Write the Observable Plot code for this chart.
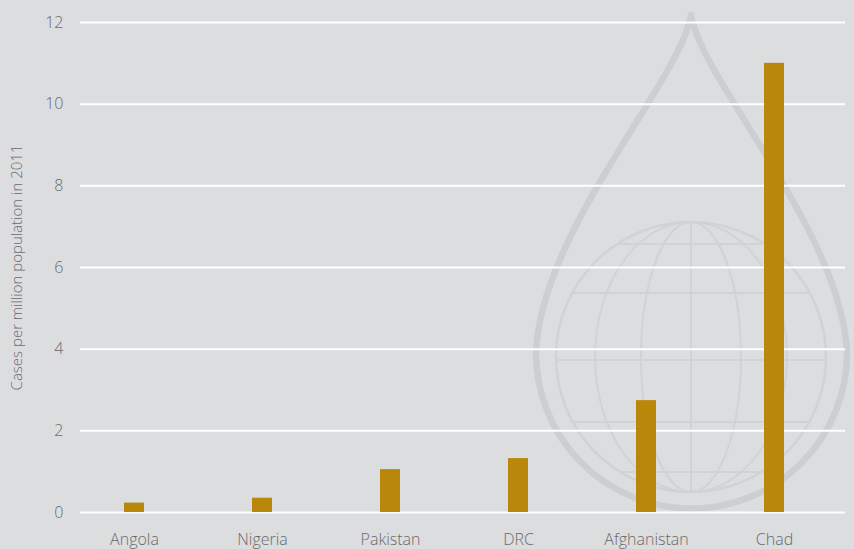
<!DOCTYPE html>
<html>
<head>
<meta charset="utf-8">
<script src="https://cdn.jsdelivr.net/npm/d3@7"></script>
<script src="https://cdn.jsdelivr.net/npm/@observablehq/plot@0.6"></script>
<style>
  html, body { margin: 0; padding: 0; background: #dcdddf; }
  #chart { width: 854px; height: 549px; overflow: hidden; }
  #chart svg text { font-weight: 300; }
</style>
</head>
<body>
<div id="chart"></div>
<script>
// Data
const countries = ["Angola", "Nigeria", "Pakistan", "DRC", "Afghanistan", "Chad"];
const cases = [0.23, 0.35, 1.05, 1.32, 2.74, 11.0];
const yTicks = [0, 2, 4, 6, 8, 10, 12];

const data = countries.map((c, i) => ({country: c, value: cases[i]}));

const chart = Plot.plot({
  width: 854,
  height: 549,
  marginTop: 22,
  marginBottom: 37,
  marginLeft: 80,
  marginRight: 9,
  style: {background: "transparent", fontFamily: "Open Sans, sans-serif", fontSize: "16px", color: "#6a6a6a", overflow: "visible"},
  x: {domain: countries, paddingInner: 0.844, paddingOuter: 0.41, align: 0.42, label: null},
  y: {domain: [0, 12], ticks: yTicks},
  marks: [
    Plot.gridY(yTicks, {stroke: "#ffffff", strokeOpacity: 1, strokeWidth: 2}),
    Plot.barY(data, {x: "country", y: "value", fill: "#b9870a"}),
    Plot.axisX({tickSize: 0, tickPadding: 21, label: null, fontSize: 16}),
    Plot.axisY(yTicks, {tickSize: 0, tickPadding: 17, label: "Cases per million population in 2011",
      labelAnchor: "center", labelArrow: "none", labelOffset: 69, fontSize: 16})
  ]
});

// Decorative watermark (drop + globe) behind the marks
const ns = "http://www.w3.org/2000/svg";
const wm = document.createElementNS(ns, "g");
wm.setAttribute("fill", "none");
const cx = 691, cy = 357, rg = 135;
const drop = document.createElementNS(ns, "path");
drop.setAttribute("d", "M691,15 C681,80 540,232 536,353 A155.5,155.5 0 0 0 847,353 C842,232 701,80 691,15 Z");
drop.setAttribute("stroke", "#cdced1");
drop.setAttribute("stroke-width", "6.5");
drop.setAttribute("stroke-linejoin", "round");
wm.appendChild(drop);
const g2 = document.createElementNS(ns, "g");
g2.setAttribute("stroke", "#d1d2d5");
g2.setAttribute("stroke-width", "2");
const circ = document.createElementNS(ns, "circle");
circ.setAttribute("cx", cx); circ.setAttribute("cy", cy); circ.setAttribute("r", rg);
circ.setAttribute("stroke-width", "2.5");
g2.appendChild(circ);
[50, 96].forEach(rx => {
  const e = document.createElementNS(ns, "ellipse");
  e.setAttribute("cx", cx); e.setAttribute("cy", cy); e.setAttribute("rx", rx); e.setAttribute("ry", rg);
  g2.appendChild(e);
});
const v = document.createElementNS(ns, "line");
v.setAttribute("x1", cx); v.setAttribute("x2", cx); v.setAttribute("y1", cy - rg); v.setAttribute("y2", cy + rg);
g2.appendChild(v);
[-113, -64, 3, 65, 115].forEach(d => {
  const hw = Math.sqrt(rg * rg - d * d);
  const l = document.createElementNS(ns, "line");
  l.setAttribute("x1", cx - hw); l.setAttribute("x2", cx + hw);
  l.setAttribute("y1", cy + d); l.setAttribute("y2", cy + d);
  g2.appendChild(l);
});
wm.appendChild(g2);
chart.insertBefore(wm, chart.firstChild);

const lab = chart.querySelector('[aria-label="y-axis label"]');
if (lab) lab.setAttribute("font-size", "15");

document.getElementById("chart").appendChild(chart);
</script>
</body>
</html>
